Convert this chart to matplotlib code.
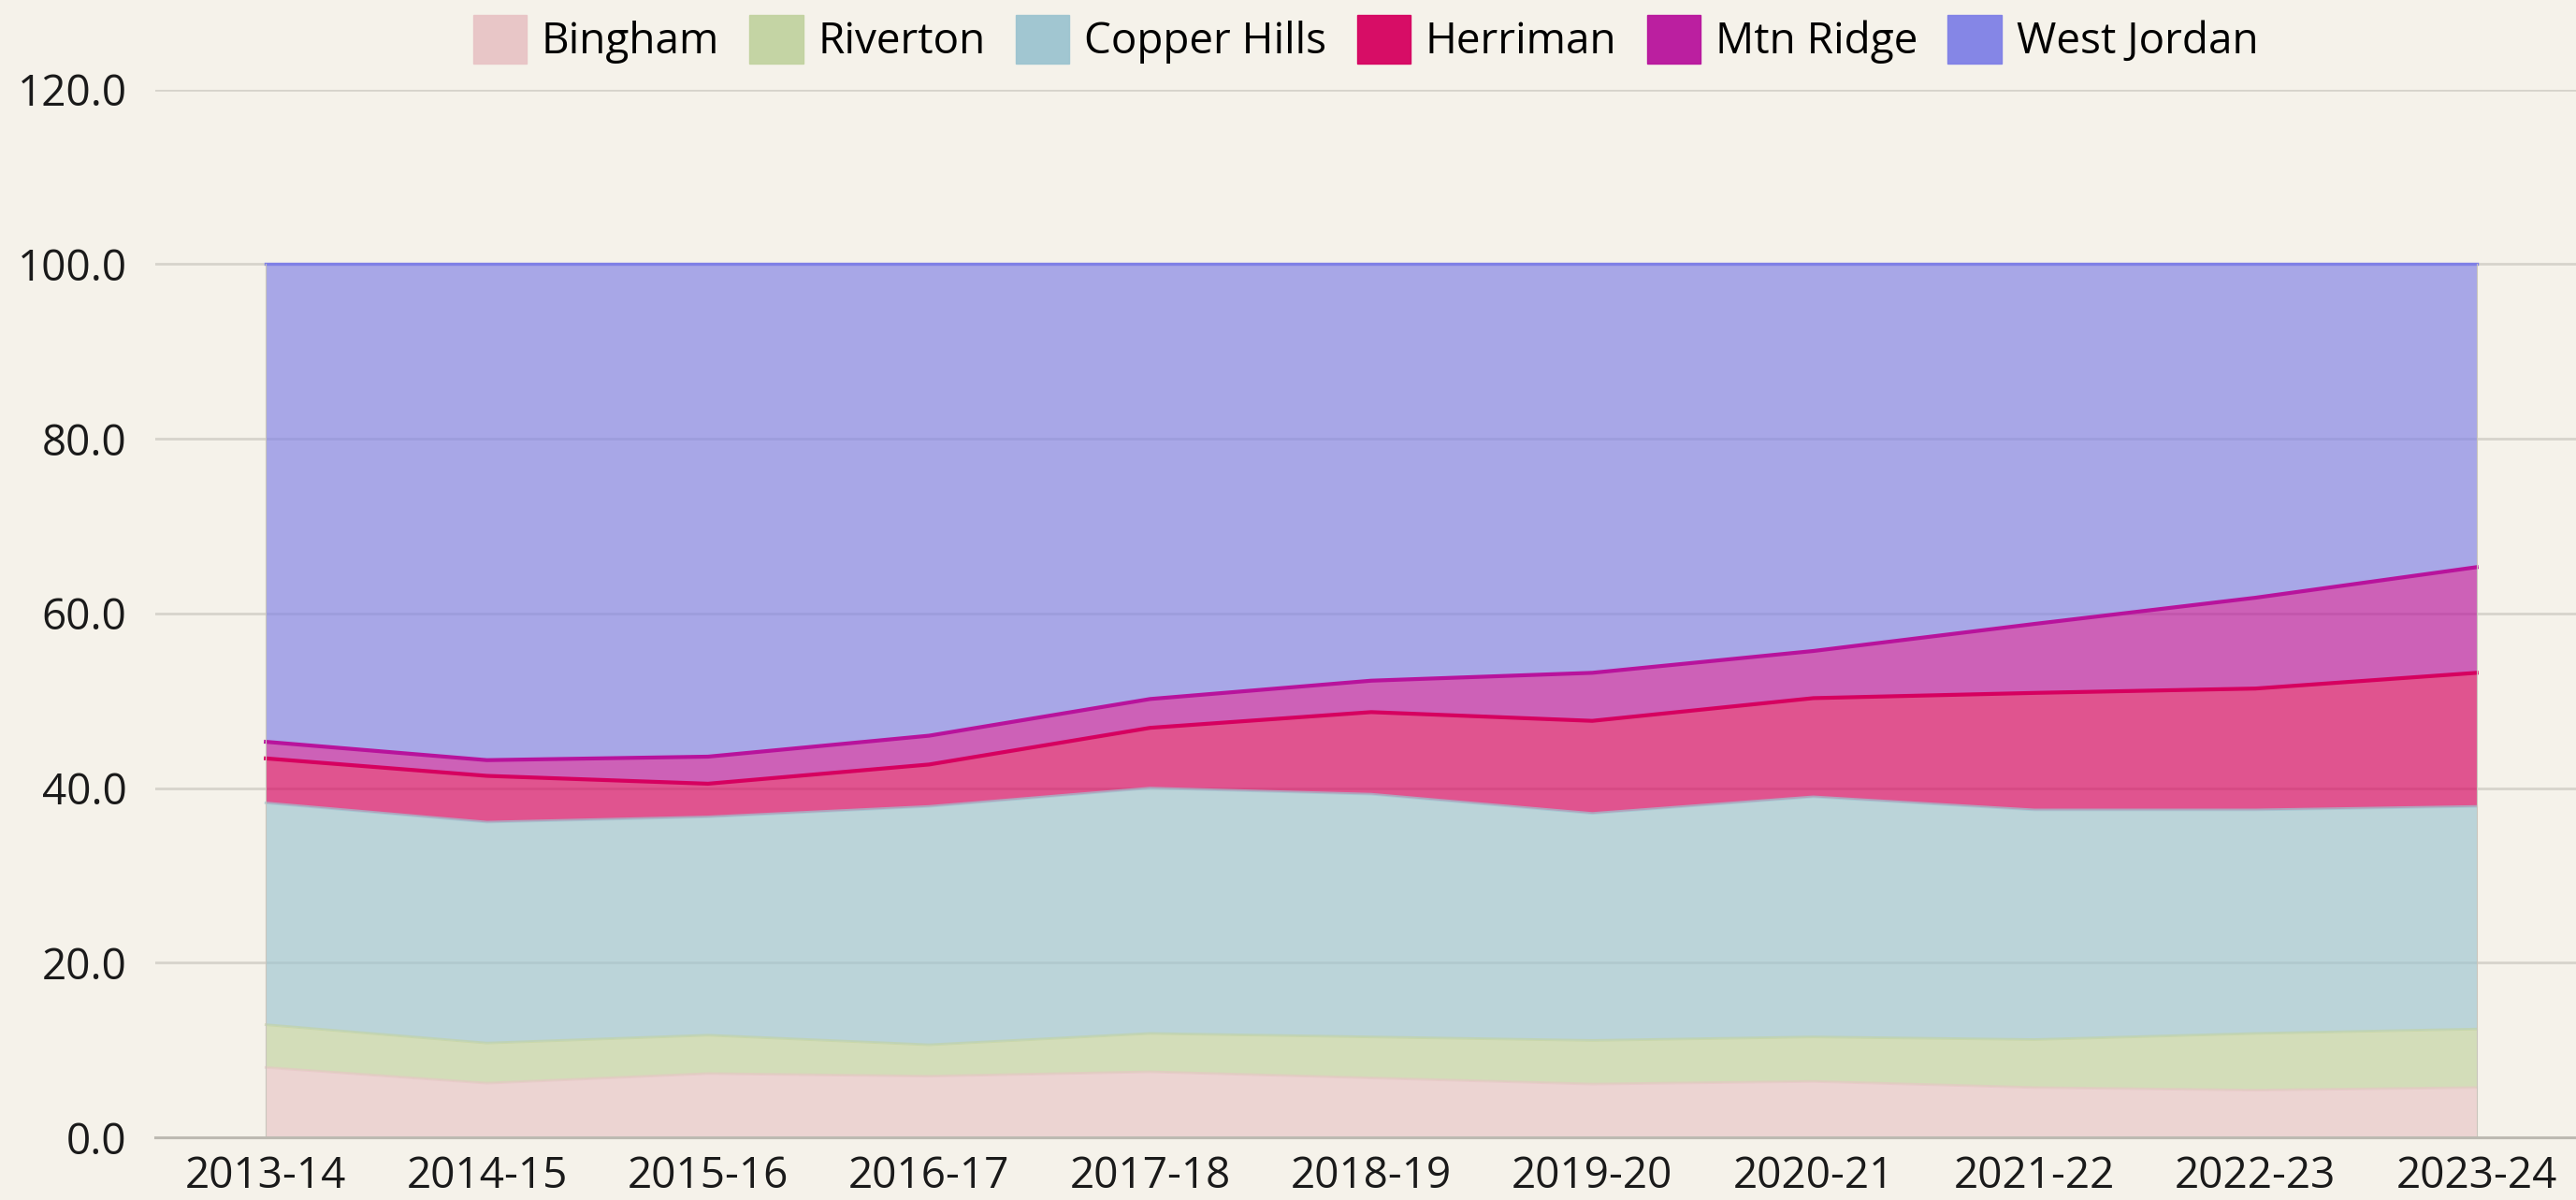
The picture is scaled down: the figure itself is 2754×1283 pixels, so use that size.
import matplotlib
matplotlib.use("Agg")
import matplotlib.pyplot as plt
from matplotlib.patches import Patch

plt.rcParams['font.family'] = ['Open Sans', 'DejaVu Sans']

years = ["2013-14", "2014-15", "2015-16", "2016-17", "2017-18", "2018-19",
         "2019-20", "2020-21", "2021-22", "2022-23", "2023-24"]
names = ["Bingham", "Riverton", "Copper Hills", "Herriman", "Mtn Ridge", "West Jordan"]

bingham = [8.0, 6.2, 7.3, 7.0, 7.5, 6.8, 6.1, 6.4, 5.7, 5.4, 5.7]
riverton = [4.9, 4.6, 4.4, 3.6, 4.4, 4.7, 5.0, 5.1, 5.5, 6.5, 6.7]
copper_hills = [25.4, 25.3, 25.0, 27.3, 28.1, 27.8, 26.0, 27.5, 26.3, 25.6, 25.5]
herriman = [5.1, 5.3, 3.8, 4.8, 6.9, 9.4, 10.6, 11.3, 13.4, 13.9, 15.3]
mtn_ridge = [1.9, 1.8, 3.1, 3.3, 3.3, 3.6, 5.5, 5.4, 7.9, 10.4, 12.1]
west_jordan = [54.7, 56.8, 56.4, 54.0, 49.8, 47.7, 46.8, 44.3, 41.2, 38.2, 34.7]

series = [bingham, riverton, copper_hills, herriman, mtn_ridge, west_jordan]
colors = ["#E8C4C6", "#C2D3A0", "#9DC4D0", "#D6005F", "#B8139C", "#7F80E6"]
line_w = [2.0, 2.0, 2.0, 3.0, 3.0, 2.4]
line_a = [0.6, 0.6, 0.7, 1.0, 1.0, 1.0]

bg = "#F5F2EA"
fig = plt.figure(figsize=(27.54, 12.83), dpi=100, facecolor=bg)
ax = fig.add_axes([0.0603, 0.0522, 0.9397, 0.8732])
ax.set_facecolor(bg)

x = list(range(len(years)))
base = [0.0] * len(years)
for vals, c, lw, la in zip(series, colors, line_w, line_a):
    top = [b + v for b, v in zip(base, vals)]
    ax.fill_between(x, base, top, color=c, alpha=0.65, lw=0, zorder=2)
    ax.plot(x, top, color=c, lw=lw, alpha=la, zorder=3)
    base = top
# thin edges of the stacked area
ax.plot([0, 0], [0, 100], color="#C9C5BC", lw=0.8, zorder=3)
ax.plot([10, 10], [0, 100], color="#C9C5BC", lw=0.8, zorder=3)

ax.set_xlim(-0.5, 10.45)
ax.set_ylim(0, 120)
ax.set_yticks([0, 20, 40, 60, 80, 100, 120])
ax.set_yticklabels([f"{v:.1f}" for v in [0, 20, 40, 60, 80, 100, 120]])
ax.set_xticks(x)
ax.set_xticklabels(years)
ax.tick_params(axis='both', length=0, labelsize=33, colors="#1a1a1a")
ax.tick_params(axis='x', pad=14)
ax.yaxis.set_tick_params(pad=22)
ax.grid(axis='y', color="#D6D3CB", lw=2.0, zorder=1)
for s in ["left", "right", "top"]:
    ax.spines[s].set_visible(False)
ax.spines["bottom"].set_color("#BDBAB2")
ax.spines["bottom"].set_linewidth(2.2)
ax.spines["bottom"].set_zorder(4)

handles = [Patch(facecolor=c, edgecolor=c, alpha=0.95) for c in colors]
leg = fig.legend(handles, names, loc="center", bbox_to_anchor=(0.5 + 0.0603 / 2, 0.967),
                 ncol=6, frameon=False, fontsize=33, handlelength=1.25, handleheight=1.35,
                 handletextpad=0.35, columnspacing=0.7)

fig.savefig("out.png", dpi=100, facecolor=bg)
